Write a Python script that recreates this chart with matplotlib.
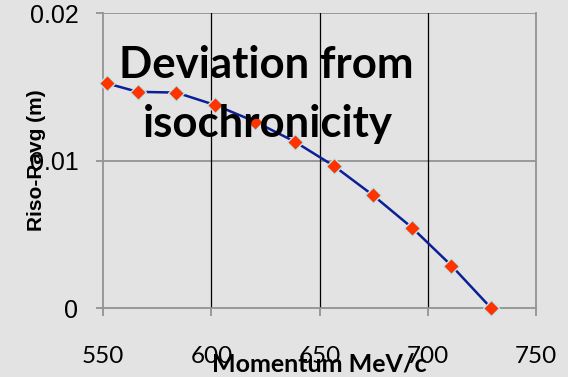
import matplotlib
matplotlib.use('Agg')
from matplotlib import pyplot

# momentum (MeV/c) and deviation from isochronicity Riso-Ravg (m)
momentum = [551.6, 565.9, 583.8, 601.8, 620.3, 638.6, 656.5, 674.5, 692.7, 710.9, 729.2]
deviation = [0.01525, 0.01467, 0.01462, 0.01377, 0.01264, 0.01128, 0.00965,
             0.00767, 0.00545, 0.00288, 0.0]
xticks = [550, 600, 650, 700, 750]
yticks = [0, 0.01, 0.02]
ytick_labels = ['0', '0.01', '0.02']

BG = '#e3e3e3'
GRID_GRAY = '#939393'

f = pyplot.figure(figsize=(5.68, 3.77), dpi=100, facecolor=BG)
ax = f.add_axes([0.1819, 0.183, 0.7618, 0.7817])
ax.set_facecolor(BG)

ax.set_xlim(550, 750)
ax.set_ylim(0, 0.02)

# gridlines: horizontal gray, inner vertical black
for y in yticks[1:]:
    ax.axhline(y, color=GRID_GRAY, lw=1.3, zorder=1)
for x in xticks[1:-1]:
    ax.axvline(x, color='black', lw=0.9, zorder=1)

for side in ['left', 'bottom', 'right']:
    ax.spines[side].set_color(GRID_GRAY)
    ax.spines[side].set_linewidth(1.3)
ax.spines['top'].set_visible(False)

ax.plot(momentum, deviation, '-', color='#0b1f96', lw=1.8, zorder=3)
ax.plot(momentum, deviation, 'D', ms=8.5, mfc='#ff3300', mec='#bfe6ea', mew=1.0,
        zorder=4, clip_on=False)

ax.set_xticks(xticks)
ax.set_xticklabels([str(x) for x in xticks], fontfamily='Lato', fontsize=17.5)
ax.set_yticks(yticks)
ax.set_yticklabels(ytick_labels, fontfamily='Liberation Sans', fontsize=18)
ax.tick_params(axis='x', direction='out', length=6, width=1.3, color=GRID_GRAY, pad=21)
ax.tick_params(axis='y', direction='out', length=5, width=1.3, color=GRID_GRAY, pad=13)

ax.set_xlabel(u'Momentum MeV/c', fontfamily='Lato', fontweight='bold', fontsize=18,
              va='baseline')
ax.xaxis.set_label_coords(0.5, -0.217)
ax.set_ylabel(u'Riso-Ravg (m)', fontfamily='Liberation Sans', fontweight='bold',
              fontsize=15, va='center')
ax.yaxis.set_label_coords(-0.155, 0.5)

f.text(0.468, 0.7931, u'Deviation from', ha='center', va='baseline',
       fontfamily='Lato', fontweight='bold', fontsize=31.5, zorder=5)
f.text(0.471, 0.6366, u'isochronicity', ha='center', va='baseline',
       fontfamily='Lato', fontweight='bold', fontsize=31.5, zorder=5)

f.savefig('out.png', dpi=100, facecolor=BG)
